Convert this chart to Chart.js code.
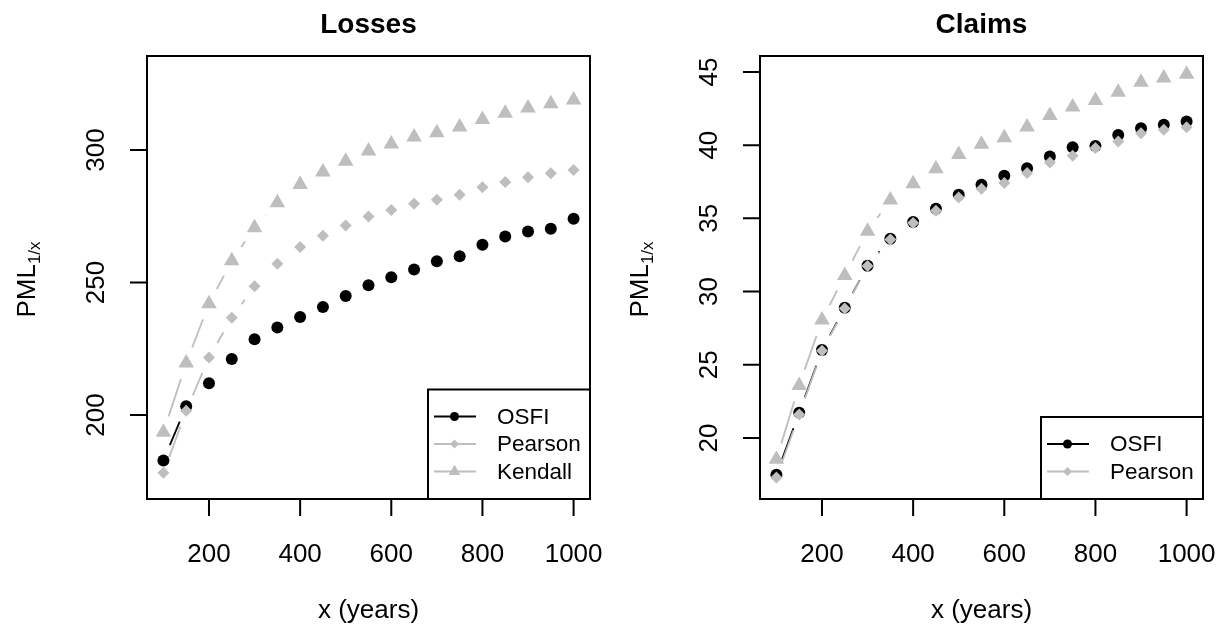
<!DOCTYPE html>
<html>
<head>
<meta charset="utf-8">
<script src="https://cdn.jsdelivr.net/npm/chart.js@4.4.1/dist/chart.umd.min.js"></script>
<style>
  html, body { margin: 0; padding: 0; background: #fff; }
  #wrap { position: relative; width: 1225px; height: 635px; }
  canvas { position: absolute; top: 0; }
</style>
</head>
<body>
<div id="wrap">
  <canvas id="lossesChart" width="612" height="635" style="left:0"></canvas>
  <canvas id="claimsChart" width="613" height="635" style="left:612px"></canvas>
</div>
<script>
// return periods (years)
const years = [100, 150, 200, 250, 300, 350, 400, 450, 500, 550, 600, 650, 700, 750, 800, 850, 900, 950, 1000];

// PML for losses
const lossesOsfi = [182.8, 203.3, 212.0, 221.1, 228.6, 233.0, 237.0, 240.8, 244.9, 249.0, 252.0, 254.9, 258.0, 259.9, 264.3, 267.4, 269.3, 270.3, 274.1];
const lossesPearson = [178.2, 201.6, 221.7, 236.7, 248.6, 257.1, 263.4, 267.7, 271.5, 274.9, 277.4, 279.7, 281.2, 283.1, 286.0, 287.9, 289.7, 291.2, 292.5];
const lossesKendall = [193.5, 219.6, 242.0, 258.2, 270.7, 280.1, 287.0, 291.7, 295.8, 299.6, 302.3, 304.9, 306.5, 308.7, 311.5, 313.9, 315.9, 317.5, 318.9];

// PML for claims
const claimsOsfi = [17.48, 21.73, 26.0, 28.89, 31.77, 33.61, 34.75, 35.66, 36.61, 37.30, 37.91, 38.43, 39.23, 39.86, 39.95, 40.70, 41.16, 41.39, 41.61];
const claimsPearson = [17.3, 21.6, 25.95, 28.85, 31.75, 33.55, 34.68, 35.52, 36.43, 37.02, 37.41, 38.09, 38.82, 39.27, 39.80, 40.25, 40.82, 41.05, 41.23];
const claimsKendall = [18.54, 23.59, 28.05, 31.09, 34.12, 36.26, 37.37, 38.39, 39.37, 40.07, 40.50, 41.24, 42.03, 42.60, 43.05, 43.62, 44.30, 44.58, 44.84];

// axis ticks
const xTicks = [200, 400, 600, 800, 1000];
const lossesYTicks = [200, 250, 300];
const claimsYTicks = [20, 25, 30, 35, 40, 45];

const FONT = '"Liberation Sans", Arial, Helvetica, sans-serif';
const GREY = '#bebebe';

function pts(ys) {
    return years.map((x, i) => ({ x: x, y: ys[i] }));
}

function series(label, ys, color, style, radius, order) {
    return {
        label: label,
        data: pts(ys),
        backgroundColor: color,
        borderColor: color,
        pointStyle: style,
        pointRadius: radius,
        pointBorderWidth: 0,
        showLine: false,
        order: order
    };
}

// draws the frame, axes, titles, legend, and "type b" lines with gaps around the points
const basePlot = {
    id: 'basePlot',
    beforeDatasetsDraw(chart) {
        const ctx = chart.ctx;
        const gap = 16.7;
        ctx.save();
        ctx.lineWidth = 1.8;
        chart.data.datasets.forEach((ds, di) => {
            const meta = chart.getDatasetMeta(di);
            ctx.strokeStyle = ds.borderColor;
            for (let i = 0; i < meta.data.length - 1; i++) {
                const a = meta.data[i], b = meta.data[i + 1];
                const dx = b.x - a.x, dy = b.y - a.y;
                const d = Math.hypot(dx, dy);
                if (d <= 2 * gap) continue;
                const ux = dx / d, uy = dy / d;
                ctx.beginPath();
                ctx.moveTo(a.x + ux * gap, a.y + uy * gap);
                ctx.lineTo(b.x - ux * gap, b.y - uy * gap);
                ctx.stroke();
            }
        });
        ctx.restore();
    },
    afterDraw(chart, args, opts) {
        const ctx = chart.ctx;
        const area = chart.chartArea;
        const xs = chart.scales.x, ys = chart.scales.y;
        const cx = (area.left + area.right) / 2;
        const cy = (area.top + area.bottom) / 2;
        ctx.save();
        ctx.strokeStyle = '#000';
        ctx.fillStyle = '#000';
        ctx.lineWidth = 2;

        // box
        ctx.strokeRect(area.left, area.top, area.right - area.left, area.bottom - area.top);

        // x axis
        ctx.font = '26px ' + FONT;
        ctx.textAlign = 'center';
        ctx.textBaseline = 'alphabetic';
        ctx.beginPath();
        ctx.moveTo(xs.getPixelForValue(xTicks[0]), area.bottom);
        ctx.lineTo(xs.getPixelForValue(xTicks[xTicks.length - 1]), area.bottom);
        xTicks.forEach(t => {
            const px = xs.getPixelForValue(t);
            ctx.moveTo(px, area.bottom);
            ctx.lineTo(px, area.bottom + 17);
        });
        ctx.stroke();
        xTicks.forEach(t => ctx.fillText(String(t), xs.getPixelForValue(t), 562));

        // y axis
        const yt = opts.yTicks;
        ctx.beginPath();
        ctx.moveTo(area.left, ys.getPixelForValue(yt[0]));
        ctx.lineTo(area.left, ys.getPixelForValue(yt[yt.length - 1]));
        yt.forEach(t => {
            const py = ys.getPixelForValue(t);
            ctx.moveTo(area.left, py);
            ctx.lineTo(area.left - 17, py);
        });
        ctx.stroke();
        ctx.textBaseline = 'middle';
        yt.forEach(t => {
            ctx.save();
            ctx.translate(area.left - 50, ys.getPixelForValue(t));
            ctx.rotate(-Math.PI / 2);
            ctx.fillText(String(t), 0, 0);
            ctx.restore();
        });

        // axis titles
        ctx.fillText('x (years)', cx, 611);
        ctx.save();
        ctx.translate(area.left - 121, cy + 2);
        ctx.rotate(-Math.PI / 2);
        ctx.textAlign = 'left';
        ctx.textBaseline = 'alphabetic';
        const mainW = ctx.measureText('PML').width;
        ctx.font = '17px ' + FONT;
        const subW = ctx.measureText('1/x').width;
        const x0 = -(mainW + subW) / 2;
        ctx.font = '26px ' + FONT;
        ctx.fillText('PML', x0, 9);
        ctx.font = '17px ' + FONT;
        ctx.fillText('1/x', x0 + mainW, 14);
        ctx.restore();

        // main title
        ctx.font = 'bold 28px ' + FONT;
        ctx.textBaseline = 'alphabetic';
        ctx.fillText(opts.title, cx, 33);

        // legend
        const entries = opts.legend;
        const rowH = 27.5;
        const lw = 162;
        const lh = 27 + rowH * entries.length;
        const lx = area.right - lw;
        const ly = area.bottom - lh;
        ctx.fillStyle = '#fff';
        ctx.fillRect(lx, ly, lw, lh);
        ctx.strokeStyle = '#000';
        ctx.lineWidth = 2;
        ctx.strokeRect(lx, ly, lw, lh);
        ctx.font = '22.5px ' + FONT;
        ctx.textAlign = 'left';
        ctx.textBaseline = 'middle';
        entries.forEach((e, i) => {
            const ds = chart.data.datasets[e];
            const ry = ly + 27 + i * rowH;
            ctx.strokeStyle = ds.borderColor;
            ctx.lineWidth = 1.8;
            ctx.beginPath();
            ctx.moveTo(lx + 6, ry);
            ctx.lineTo(lx + 48, ry);
            ctx.stroke();
            ctx.fillStyle = ds.backgroundColor;
            Chart.helpers.drawPoint(ctx, {
                pointStyle: ds.pointStyle,
                radius: ds.pointRadius * 0.75,
                rotation: 0,
                borderWidth: 0
            }, lx + 26.5, ry);
            ctx.fillStyle = '#000';
            ctx.fillText(ds.label, lx + 69, ry + 1);
        });
        ctx.restore();
    }
};

function makeChart(id, title, osfi, pearson, kendall, yMin, yMax, yTicks, legend, padLeft, padRight) {
    const ctx = document.getElementById(id).getContext('2d');
    return new Chart(ctx, {
        type: 'scatter',
        data: {
            datasets: [
                series('OSFI', osfi, '#000000', 'circle', 6, 3),
                series('Pearson', pearson, GREY, 'rectRot', 6, 2),
                series('Kendall', kendall, GREY, 'triangle', 9, 1)
            ]
        },
        options: {
            responsive: false,
            animation: false,
            devicePixelRatio: 1,
            layout: {
                padding: { left: padLeft, right: padRight, top: 56, bottom: 136 }
            },
            plugins: {
                legend: { display: false },
                tooltip: { enabled: false },
                basePlot: { title: title, yTicks: yTicks, legend: legend }
            },
            scales: {
                x: { type: 'linear', display: false, min: 64, max: 1036 },
                y: { type: 'linear', display: false, min: yMin, max: yMax }
            }
        },
        plugins: [basePlot]
    });
}

makeChart('lossesChart', 'Losses', lossesOsfi, lossesPearson, lossesKendall,
    168.3, 335.5, lossesYTicks, [0, 1, 2], 147, 22);
makeChart('claimsChart', 'Claims', claimsOsfi, claimsPearson, claimsKendall,
    15.83, 46.09, claimsYTicks, [0, 1], 148, 22);
</script>
</body>
</html>
